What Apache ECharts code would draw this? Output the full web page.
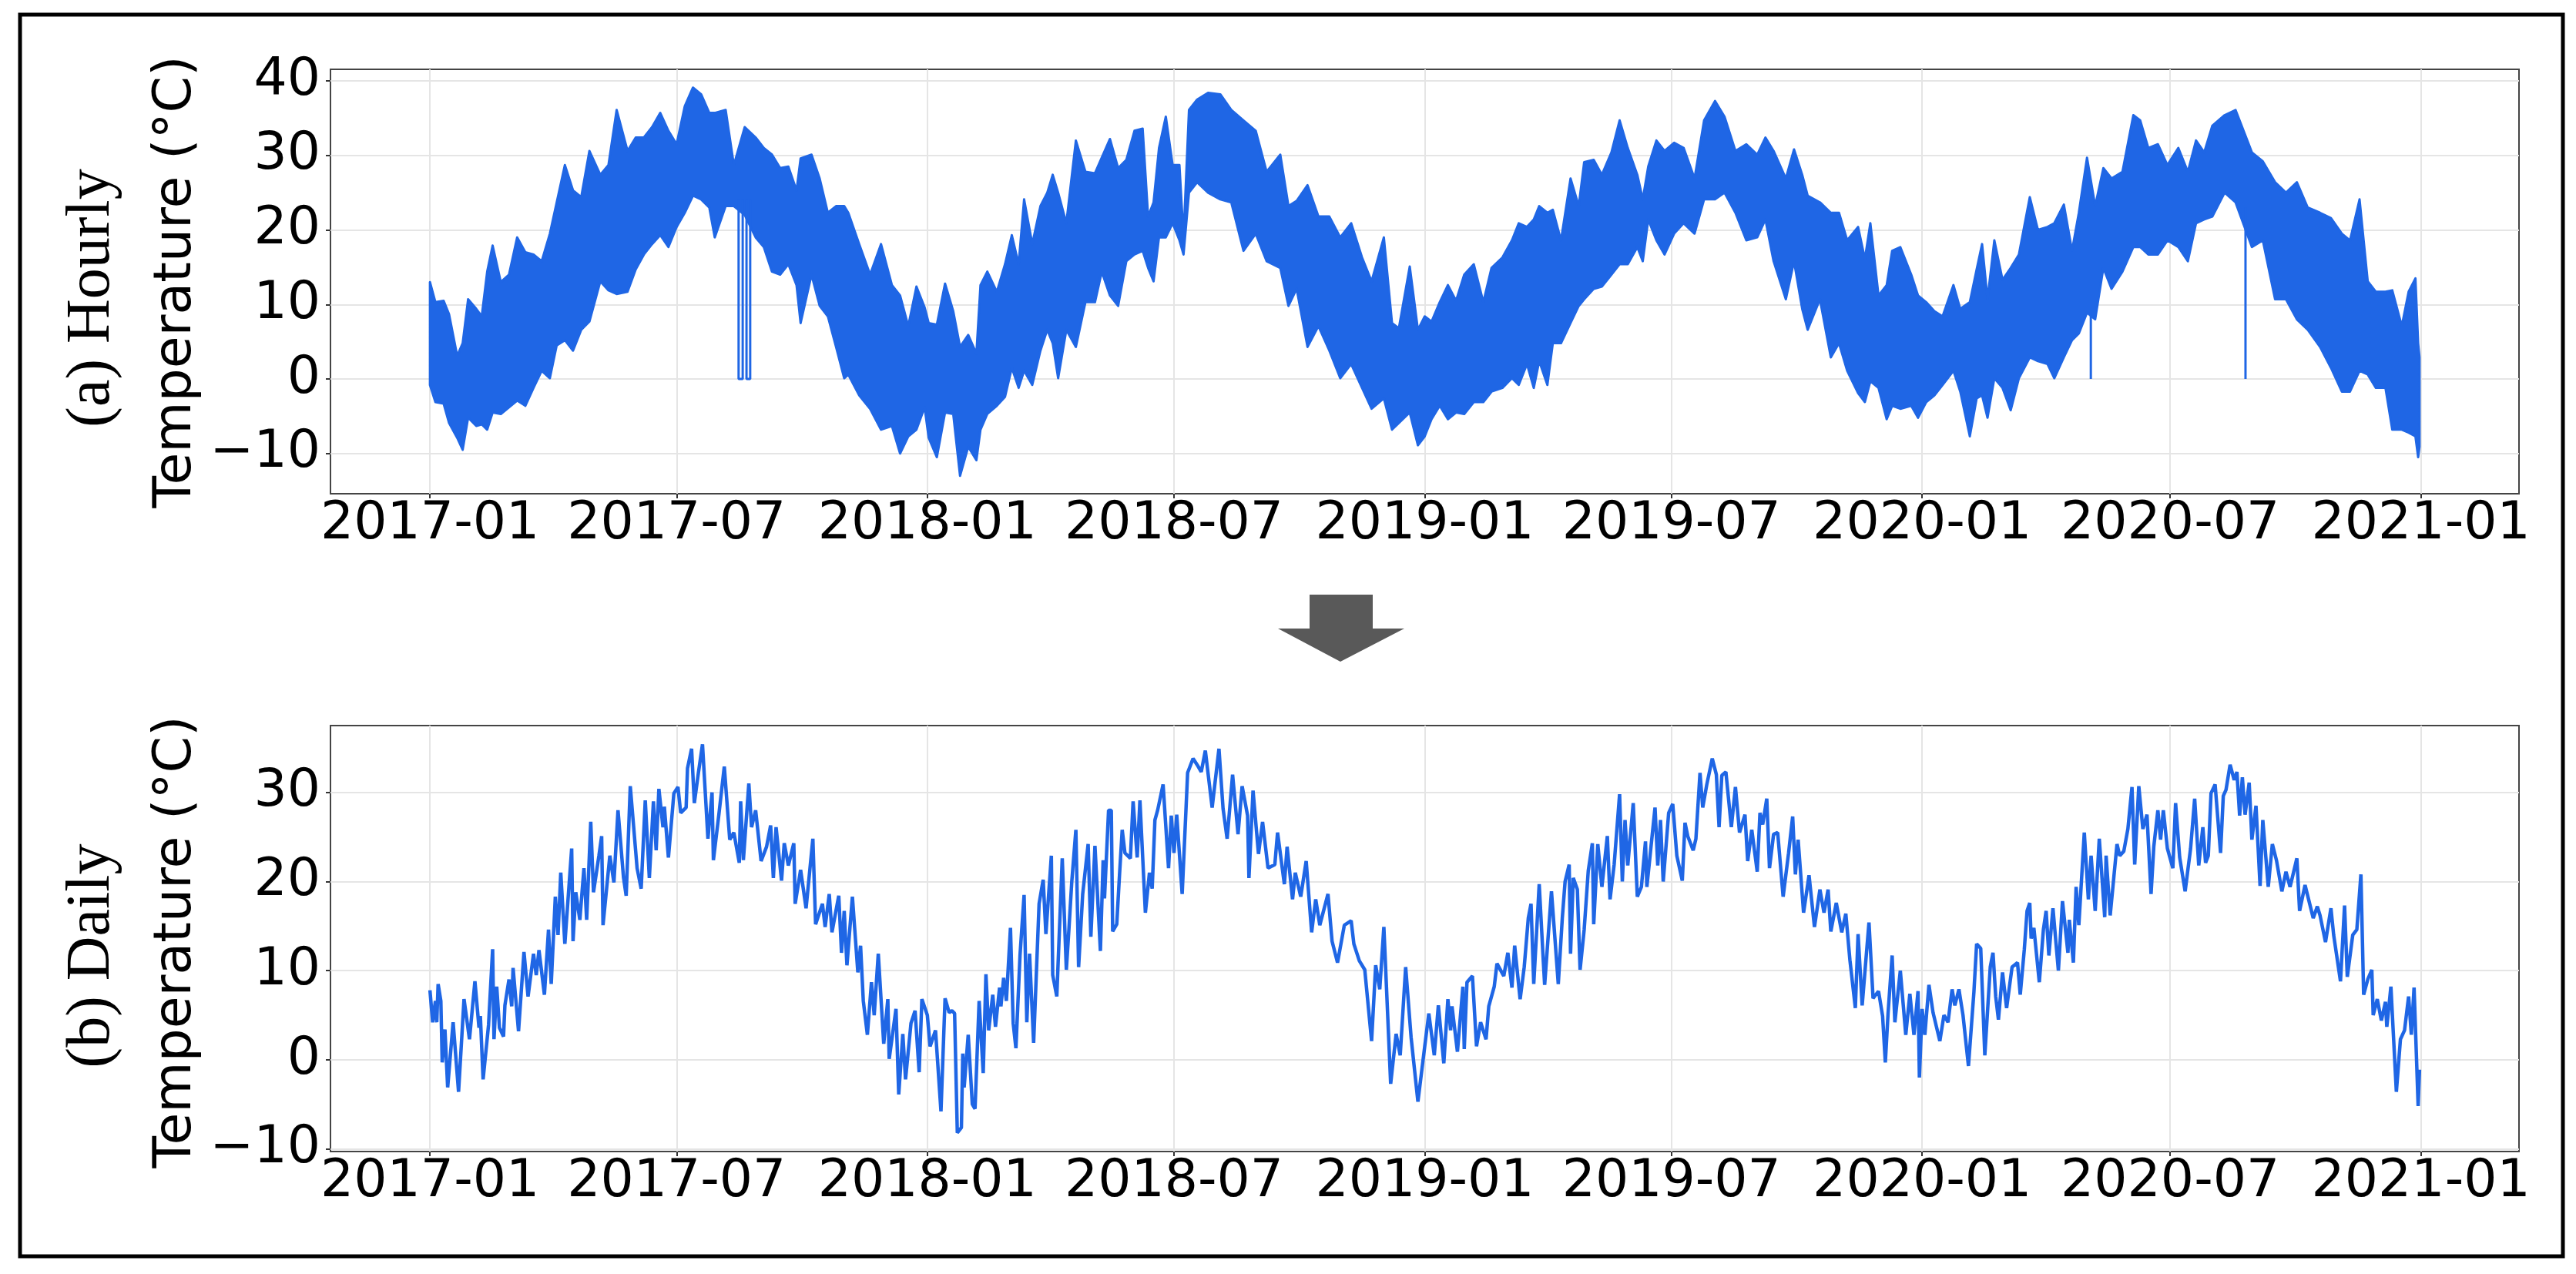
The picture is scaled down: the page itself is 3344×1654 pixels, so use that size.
<!DOCTYPE html>
<html>
<head>
<meta charset="utf-8">
<title>Hourly and daily temperature</title>
<script src="https://cdn.jsdelivr.net/npm/echarts@6.0.0/dist/echarts.min.js"></script>
<style>
  html, body { margin: 0; padding: 0; background: #fff; }
  #main { width: 3344px; height: 1654px; }
</style>
</head>
<body>
<div id="main"></div>
<script>
// tick labels
var xTickLabels = ['2017-01', '2017-07', '2018-01', '2018-07', '2019-01', '2019-07', '2020-01', '2020-07', '2021-01'];
var yTicksHourly = [-10, 0, 10, 20, 30, 40];
var yTicksDaily = [-10, 0, 10, 20, 30];

// hourly band: [day of year, upper edge, lower edge]
var hourly2017 = [[0,13.0,-0.8],[4,10.3,-3.1],[10,10.5,-3.3],[14,8.7,-5.9],[20,3.1,-7.9],[24,4.8,-9.5],[28,10.7,-5.2],[34,9.4,-6.3],[38,8.4,-6.1],[42,14.4,-6.8],[46,17.9,-4.5],[52,13.0,-4.7],[58,14.0,-3.8],[64,19.0,-2.9],[70,17.0,-3.6],[76,16.7,-1.2],[82,15.8,1.1],[88,19.5,0.1],[93,23.7,4.5],[99,28.7,5.2],[105,25.3,3.8],[111,24.4,6.6],[117,30.6,7.7],[125,27.4,13.1],[131,28.7,11.9],[137,36.1,11.4],[145,30.6,11.7],[151,32.4,14.7],[157,32.4,16.7],[163,33.8,18.1],[169,35.7,19.3],[175,33.3,17.7],[181,31.5,20.4],[187,36.6,22.3],[193,39.1,24.6],[199,38.2,24.1],[205,35.7,23.0],[209,35.7,19.0],[217,36.1,23.2],[223,28.7,23.2],[231,33.8,22.0],[239,32.4,19.0],[245,31.0,17.7],[251,30.1,14.4],[257,28.3,14.0],[263,28.5,15.4],[269,25.3,12.6],[272,29.6,7.5],[280,30.1,14.0],[286,26.9,9.8],[292,22.3,8.4],[298,23.2,4.3],[304,23.2,0.1],[307,22.3,0.6],[315,18.1,-2.2],[323,14.0,-4.0],[331,18.1,-6.8],[339,12.6,-6.3],[345,11.2,-10.0],[351,7.1,-7.7],[357,12.4,-6.8],[363,9.6,-3.8]];
var hourly2018 = [[1,7.5,-7.9],[7,7.3,-10.5],[13,12.8,-4.5],[19,9.1,-4.7],[24,4.3,-13.0],[30,5.9,-9.1],[36,3.4,-10.9],[39,12.6,-6.8],[44,14.4,-4.7],[51,11.7,-3.6],[57,15.4,-2.4],[62,19.3,1.5],[67,15.4,-1.2],[71,24.1,1.1],[77,18.1,-0.8],[83,23.2,3.8],[88,25.0,6.6],[92,27.4,4.8],[96,25.0,0.1],[102,20.9,6.6],[109,32.0,4.3],[116,27.8,10.3],[123,27.6,10.3],[128,29.7,14.4],[134,32.2,11.2],[140,28.3,9.8],[146,29.4,15.8],[152,33.3,16.7],[158,33.6,17.2],[162,21.8,14.9],[166,23.7,13.1],[170,31.0,19.0],[175,35.2,19.0],[180,28.7,20.9],[185,28.7,18.6],[188,19.0,16.7],[192,36.1,25.0],[198,37.5,26.4],[206,38.4,25.0],[215,38.2,24.1],[223,36.1,23.7],[232,34.7,17.2],[241,33.3,19.5],[249,27.8,15.8],[259,30.1,14.9],[265,23.2,9.8],[271,23.9,12.1],[279,26.0,4.3],[287,21.8,7.1],[295,21.8,3.8],[303,19.0,0.1],[311,20.9,2.0],[319,16.3,-1.2],[326,13.1,-4.0],[335,19.0,-2.6],[341,7.5,-6.8],[346,6.8,-5.9],[354,15.1,-4.5],[360,6.6,-8.9]];
var hourly2019 = [[0,8.4,-7.7],[5,7.7,-5.4],[11,10.3,-3.6],[17,12.6,-5.4],[23,10.5,-4.5],[29,14.0,-4.7],[36,15.4,-3.1],[43,10.3,-3.1],[49,14.9,-1.7],[57,16.3,-1.2],[64,18.6,0.1],[69,20.9,-0.8],[75,20.4,2.0],[80,21.4,-1.2],[84,23.2,2.4],[90,22.3,-0.8],[94,22.7,4.8],[100,18.6,4.8],[107,26.9,7.5],[113,23.2,9.8],[117,29.1,10.7],[124,29.4,12.1],[130,27.4,12.4],[137,30.4,14.0],[143,34.7,15.4],[149,31.0,15.4],[156,27.4,17.7],[160,24.1,15.8],[164,28.5,21.4],[170,32.0,18.6],[176,30.6,16.7],[183,31.7,19.5],[190,31.0,20.9],[198,26.9,19.5],[205,34.7,24.1],[213,37.3,24.1],[220,35.2,25.0],[228,30.6,22.3],[236,31.5,18.6],[244,30.1,19.0],[250,32.4,21.4],[256,30.6,15.8],[265,26.9,10.7],[271,30.8,15.8],[277,27.4,9.4],[281,24.6,6.6],[290,23.7,10.7],[298,22.3,2.9],[304,22.3,4.8],[310,18.6,1.1],[318,20.4,-1.9],[323,16.1,-3.1],[327,20.9,-0.3],[333,11.2,-1.2],[339,12.6,-5.4],[343,17.2,-3.6],[349,17.7,-4.0],[357,14.0,-3.6],[362,11.2,-5.2]];
var hourly2020 = [[3,10.3,-3.1],[9,9.1,-2.2],[15,8.4,-0.8],[23,12.6,1.1],[28,9.4,-1.7],[35,10.3,-7.7],[40,14.7,-2.6],[44,18.1,-2.2],[48,10.7,-5.2],[53,18.6,0.1],[59,13.3,-1.2],[65,14.9,-4.2],[71,16.7,0.1],[79,24.4,2.9],[85,20.0,2.4],[92,20.4,2.0],[97,20.9,0.1],[104,23.4,2.9],[110,17.2,5.2],[115,22.3,6.1],[121,29.7,8.9],[127,23.2,8.0],[133,28.3,14.9],[139,26.9,12.1],[147,27.8,14.4],[155,35.4,17.7],[160,34.7,17.7],[166,31.0,16.7],[173,31.5,16.7],[180,28.7,18.6],[188,31.0,17.7],[195,27.8,15.8],[201,32.0,20.9],[207,30.4,21.4],[213,34.0,21.8],[222,35.4,25.0],[230,36.1,23.7],[242,30.4,17.7],[250,29.2,18.6],[259,26.4,10.7],[267,25.0,10.7],[275,26.4,8.0],[283,23.0,6.6],[292,22.3,4.3],[300,21.6,1.5],[308,19.5,-1.7],[314,18.6,-1.7],[321,24.1,1.1],[327,13.1,0.6],[333,11.7,-1.2],[340,11.7,-1.2],[345,11.9,-6.8],[352,7.1,-6.8],[357,11.7,-7.2],[362,13.5,-7.7],[364,4.8,-10.5],[365,2.9,-9.1]];
// hours where the sensor reads 0: [year, first day, last day, value before the drop]
var hourlyDrops = [[2017, 226.5, 229.5, 24.0], [2017, 232.3, 235.0, 24.0], [2020, 123.8, 123.8, 9.0], [2020, 237.3, 237.3, 23.0]];

// daily means: [day of year, value]
var daily2017 = [[0,7.8],[2,4.2],[4,6.6],[5,4.2],[6,8.5],[8,6.6],[9,-0.3],[11,3.4],[13,-3.1],[17,4.2],[21,-3.6],[25,6.8],[29,2.3],[33,8.8],[36,3.6],[37,4.9],[39,-2.2],[43,3.9],[46,12.4],[47,2.3],[49,8.2],[51,3.6],[54,2.6],[55,6.1],[58,9.0],[60,6.0],[61,10.3],[65,3.2],[69,12.1],[72,7.1],[76,11.9],[78,9.5],[80,12.3],[84,7.3],[87,14.6],[89,8.5],[92,18.3],[94,14.0],[96,21.0],[99,13.0],[104,23.7],[105,13.3],[107,18.8],[110,15.7],[113,21.5],[115,15.7],[118,26.7],[120,18.8],[124,22.9],[126,25.1],[127,15.1],[132,22.9],[135,19.9],[138,28.0],[142,20.5],[144,18.4],[147,30.7],[152,21.5],[155,19.2],[158,29.1],[161,20.4],[164,29.0],[166,23.5],[168,30.4],[171,26.1],[172,28.4],[175,22.7],[179,29.9],[182,30.6],[184,27.7],[188,28.3],[189,32.7],[192,34.9],[194,28.8],[197,32.2],[200,35.4],[204,24.8],[207,30.0],[208,22.4],[212,27.5],[216,32.9],[220,24.7],[223,25.5],[227,22.1],[228,29.0],[230,22.4],[234,31.0],[236,26.1],[239,28.0],[243,22.3],[247,23.9],[250,26.3],[252,20.4],[254,26.1],[258,20.1],[260,24.3],[263,21.8],[267,24.3],[268,17.5],[272,21.3],[276,17.0],[281,24.8],[283,15.2],[288,17.5],[290,14.9],[293,18.6],[295,14.3],[300,18.4],[302,12.0],[304,16.7],[306,10.6],[310,18.3],[314,9.8],[316,12.8],[318,6.6],[321,2.8],[324,8.7],[326,5.0],[329,11.9],[333,1.8],[336,6.8],[337,0.1],[342,5.7],[344,-3.9],[347,2.9],[349,-2.2],[353,4.1],[356,5.5],[359,-1.4],[361,6.8]];
var daily2018 = [[0,5.0],[2,1.5],[6,3.3],[10,-5.8],[13,6.9],[16,5.3],[18,5.5],[20,5.2],[22,-8.2],[25,-7.6],[26,0.7],[27,-3.1],[30,2.8],[33,-5.0],[35,-5.5],[38,6.6],[41,-1.5],[43,9.6],[45,3.3],[48,7.3],[50,3.7],[53,8.1],[54,6.0],[56,9.2],[58,6.6],[61,14.8],[63,4.1],[65,1.3],[68,11.7],[71,18.5],[73,4.2],[75,11.9],[78,1.9],[82,17.5],[85,20.2],[87,14.1],[91,22.9],[92,9.5],[95,7.1],[99,22.6],[102,10.1],[104,14.9],[106,20.0],[109,25.8],[111,10.4],[114,18.6],[118,24.2],[120,13.8],[123,24.0],[127,12.2],[129,22.4],[130,18.1],[133,28.0],[135,28.0],[136,14.4],[139,15.2],[141,20.7],[143,25.8],[145,23.2],[149,22.6],[151,29.0],[154,22.7],[156,29.1],[160,16.5],[163,21.0],[165,19.2],[167,26.9],[169,28.0],[173,30.9],[177,21.5],[179,27.4],[181,23.2],[183,27.5],[187,18.6],[191,32.2],[195,33.8],[198,33.1],[201,32.3],[204,34.7],[209,28.3],[214,34.9],[217,28.2],[220,24.8],[224,32.0],[228,25.3],[231,30.7],[235,27.4],[236,20.4],[239,30.2],[243,23.1],[246,26.7],[250,21.5],[255,21.9],[257,25.5],[262,19.7],[264,23.9],[268,18.0],[270,21.0],[274,18.3],[278,22.3],[282,14.3],[285,18.0],[288,15.1],[294,18.6],[297,13.3],[301,10.9],[306,15.1],[311,15.6],[313,13.0],[317,11.1],[321,10.1],[326,2.1],[329,10.6],[332,7.9],[335,14.9],[340,-2.7],[344,2.9],[347,0.5],[351,10.4],[355,2.5],[360,-4.7]];
var daily2019 = [[0,1.5],[3,5.2],[7,0.5],[10,6.1],[14,-0.4],[17,6.8],[19,3.3],[20,6.0],[24,0.9],[28,8.2],[29,1.2],[31,8.7],[35,9.4],[38,1.5],[41,4.2],[45,2.3],[47,6.0],[51,8.2],[53,10.8],[58,9.4],[61,12.0],[64,8.1],[66,12.8],[70,6.8],[73,10.4],[76,15.9],[78,17.5],[80,8.5],[84,19.7],[87,11.1],[88,8.4],[93,18.9],[98,8.5],[101,16.0],[103,20.0],[106,21.9],[107,11.9],[109,20.4],[112,19.1],[114,10.1],[117,14.6],[120,21.2],[123,24.3],[124,15.2],[127,24.2],[130,19.4],[134,25.1],[136,18.0],[139,21.9],[143,29.8],[145,20.0],[147,26.9],[149,21.8],[153,28.8],[156,18.3],[159,19.4],[162,24.5],[163,19.4],[169,28.3],[171,21.8],[173,26.9],[175,20.0],[179,27.7],[182,28.7],[185,22.9],[189,20.1],[191,26.6],[193,25.1],[197,23.5],[199,24.8],[202,32.2],[204,28.3],[207,30.9],[211,33.8],[214,32.0],[216,26.1],[218,31.9],[221,32.3],[225,26.1],[228,30.6],[231,25.5],[235,27.5],[237,22.3],[240,25.8],[244,21.1],[246,27.7],[248,26.4],[251,29.3],[253,21.5],[256,25.3],[259,25.5],[263,18.3],[267,23.2],[270,27.3],[272,20.8],[274,24.7],[278,16.5],[282,20.7],[286,14.9],[290,19.1],[293,16.5],[296,19.1],[298,14.4],[302,17.6],[306,14.3],[309,16.4],[312,11.2],[316,5.8],[318,14.1],[321,6.1],[326,15.4],[329,6.9],[333,7.7],[336,4.9],[338,-0.3],[340,5.2],[343,11.7],[345,4.2],[349,10.0],[353,2.8],[356,7.4],[359,2.8],[362,7.7],[363,-2.0]];
var daily2020 = [[0,5.7],[2,2.8],[5,8.4],[8,5.3],[13,2.1],[16,5.0],[19,4.2],[22,7.9],[24,6.1],[27,7.9],[30,5.0],[34,-0.7],[38,7.6],[40,13.0],[43,12.5],[46,0.5],[50,10.4],[52,12.0],[54,7.1],[56,4.5],[59,9.8],[62,5.8],[66,10.4],[70,10.9],[72,7.3],[75,12.4],[77,16.7],[79,17.6],[80,13.6],[82,14.8],[86,8.7],[89,14.6],[91,16.7],[93,11.7],[96,17.0],[100,10.0],[103,17.8],[107,12.0],[108,15.7],[111,10.9],[113,19.4],[115,15.1],[119,25.5],[122,18.0],[124,22.9],[127,16.7],[130,24.8],[134,16.0],[135,22.9],[138,16.2],[143,24.2],[145,22.9],[148,23.4],[151,25.9],[154,30.6],[156,21.9],[159,30.7],[162,25.9],[165,27.5],[168,18.6],[170,23.9],[173,28.0],[175,24.7],[177,28.0],[180,23.7],[184,21.5],[186,28.8],[189,22.7],[193,18.9],[197,23.7],[200,29.3],[203,21.8],[206,26.1],[208,22.1],[210,22.9],[212,29.9],[215,30.9],[219,23.2],[221,29.6],[223,30.3],[226,33.1],[229,31.4],[231,32.3],[233,27.4],[235,31.7],[237,27.5],[240,31.1],[242,24.7],[245,28.5],[248,19.5],[250,26.9],[254,19.4],[257,24.2],[260,22.4],[264,18.9],[267,21.1],[270,19.4],[275,22.6],[277,16.7],[281,19.6],[287,15.9],[290,17.2],[292,16.2],[296,13.2],[300,17.0],[302,14.0],[307,8.8],[310,17.3],[312,9.3],[316,14.0],[319,14.6],[322,20.8],[324,7.3],[327,9.0],[330,10.1],[331,5.0],[334,6.8],[337,4.4],[340,6.5],[341,3.7],[344,8.2],[348,-3.6],[351,2.3],[354,3.3],[357,7.1],[359,2.8],[361,8.1],[364,-5.2],[365,-1.1]];

var DAY = 86400000;
function toTime(year, d) { return Date.UTC(year, 0, 1) + d * DAY; }

var hourlyYears = [[2017, hourly2017], [2018, hourly2018], [2019, hourly2019], [2020, hourly2020]];
var dailyYears = [[2017, daily2017], [2018, daily2018], [2019, daily2019], [2020, daily2020]];

var bandRows = [], dailyData = [];
hourlyYears.forEach(function (yr) {
  yr[1].forEach(function (p) { bandRows.push([toTime(yr[0], p[0]), p[1], p[2]]); });
});
dailyYears.forEach(function (yr) {
  yr[1].forEach(function (p) { dailyData.push([toTime(yr[0], p[0]), p[1]]); });
});

var blue = '#1f66e5';
var sans = 'DejaVu Sans';
var xTicks = xTickLabels.map(function (s) { return Date.UTC(+s.slice(0, 4), +s.slice(5) - 1, 1); });
var xMin = Date.UTC(2016, 9, 20), xMax = Date.UTC(2021, 2, 14);

function fmtMonth(v) {
  var d = new Date(v);
  var m = d.getUTCMonth() + 1;
  return d.getUTCFullYear() + '-' + (m < 10 ? '0' + m : m);
}
function fmtTemp(v) { return v < 0 ? '\u2212' + Math.abs(v) : String(v); }

// x is a value axis holding timestamps so the half-year ticks can be placed exactly
function xAxisFor(i) {
  return {
    type: 'value', gridIndex: i, min: xMin, max: xMax,
    axisLine: { show: false, onZero: false },
    axisTick: { show: true, customValues: xTicks, length: 6, lineStyle: { color: '#333', width: 2 } },
    axisLabel: { customValues: xTicks, formatter: fmtMonth, fontFamily: sans, fontSize: 68, color: '#000', margin: 6 },
    splitLine: { show: true, lineStyle: { color: '#e5e5e5', width: 2 } }
  };
}
function yAxisFor(i, min, max, ticks) {
  return {
    type: 'value', gridIndex: i, min: min, max: max,
    axisLine: { show: false, onZero: false },
    axisTick: { show: true, customValues: ticks, length: 6, lineStyle: { color: '#333', width: 2 } },
    axisLabel: { customValues: ticks, formatter: fmtTemp, fontFamily: sans, fontSize: 68, color: '#000', margin: 13 },
    splitLine: { show: true, lineStyle: { color: '#e5e5e5', width: 2 } }
  };
}

// the hourly trace is drawn as the filled band between its upper and lower edges
function renderBand(params, api) {
  if (params.dataIndex !== 0) return null;
  var pts = [], i;
  for (i = 0; i < bandRows.length; i++) pts.push(api.coord([bandRows[i][0], bandRows[i][1]]));
  for (i = bandRows.length - 1; i >= 0; i--) pts.push(api.coord([bandRows[i][0], bandRows[i][2]]));
  return {
    type: 'polygon',
    shape: { points: pts },
    style: { fill: blue, stroke: blue, lineWidth: 3, lineJoin: 'round' }
  };
}

var series = [
  { type: 'custom', xAxisIndex: 0, yAxisIndex: 0, data: bandRows, renderItem: renderBand,
    encode: { x: 0, y: [1, 2] }, clip: true, silent: true },
  { type: 'line', xAxisIndex: 1, yAxisIndex: 1, data: dailyData,
    symbol: 'none', lineStyle: { color: blue, width: 4.5 } }
];
hourlyDrops.forEach(function (d) {
  var t0 = toTime(d[0], d[1]), t1 = toTime(d[0], d[2]);
  series.push({ type: 'line', xAxisIndex: 0, yAxisIndex: 0, symbol: 'none',
    lineStyle: { color: blue, width: 3 },
    data: [[t0, d[3]], [t0, 0], [t1, 0], [t1, d[3]]] });
});

var chart = echarts.init(document.getElementById('main'));
chart.setOption({
  animation: false,
  backgroundColor: '#fff',
  grid: [
    { left: 429, top: 90, width: 2841, height: 551, show: true, borderColor: '#444', borderWidth: 2 },
    { left: 429, top: 942, width: 2841, height: 553, show: true, borderColor: '#444', borderWidth: 2 }
  ],
  xAxis: [xAxisFor(0), xAxisFor(1)],
  yAxis: [yAxisFor(0, -15.4, 41.55, yTicksHourly), yAxisFor(1, -10.3, 37.5, yTicksDaily)],
  series: series,
  graphic: [
    { type: 'rect', shape: { x: 26, y: 19, width: 3301, height: 1612 },
      style: { fill: 'none', stroke: '#000', lineWidth: 5 } },
    { type: 'polygon', shape: { points: [[1700, 772], [1782, 772], [1782, 816], [1823, 816], [1740, 859], [1659, 816], [1700, 816]] },
      style: { fill: '#595959' } },
    { type: 'text', x: 120, y: 387, rotation: Math.PI / 2,
      style: { text: '(a) Hourly', fontFamily: 'Liberation Serif', fontSize: 80, fill: '#000', align: 'center', verticalAlign: 'middle' } },
    { type: 'text', x: 229, y: 366, rotation: Math.PI / 2,
      style: { text: 'Temperature (°C)', fontFamily: sans, fontSize: 68, fill: '#000', align: 'center', verticalAlign: 'middle' } },
    { type: 'text', x: 120, y: 1241, rotation: Math.PI / 2,
      style: { text: '(b) Daily', fontFamily: 'Liberation Serif', fontSize: 80, fill: '#000', align: 'center', verticalAlign: 'middle' } },
    { type: 'text', x: 229, y: 1223, rotation: Math.PI / 2,
      style: { text: 'Temperature (°C)', fontFamily: sans, fontSize: 68, fill: '#000', align: 'center', verticalAlign: 'middle' } }
  ]
});
</script>
</body>
</html>
